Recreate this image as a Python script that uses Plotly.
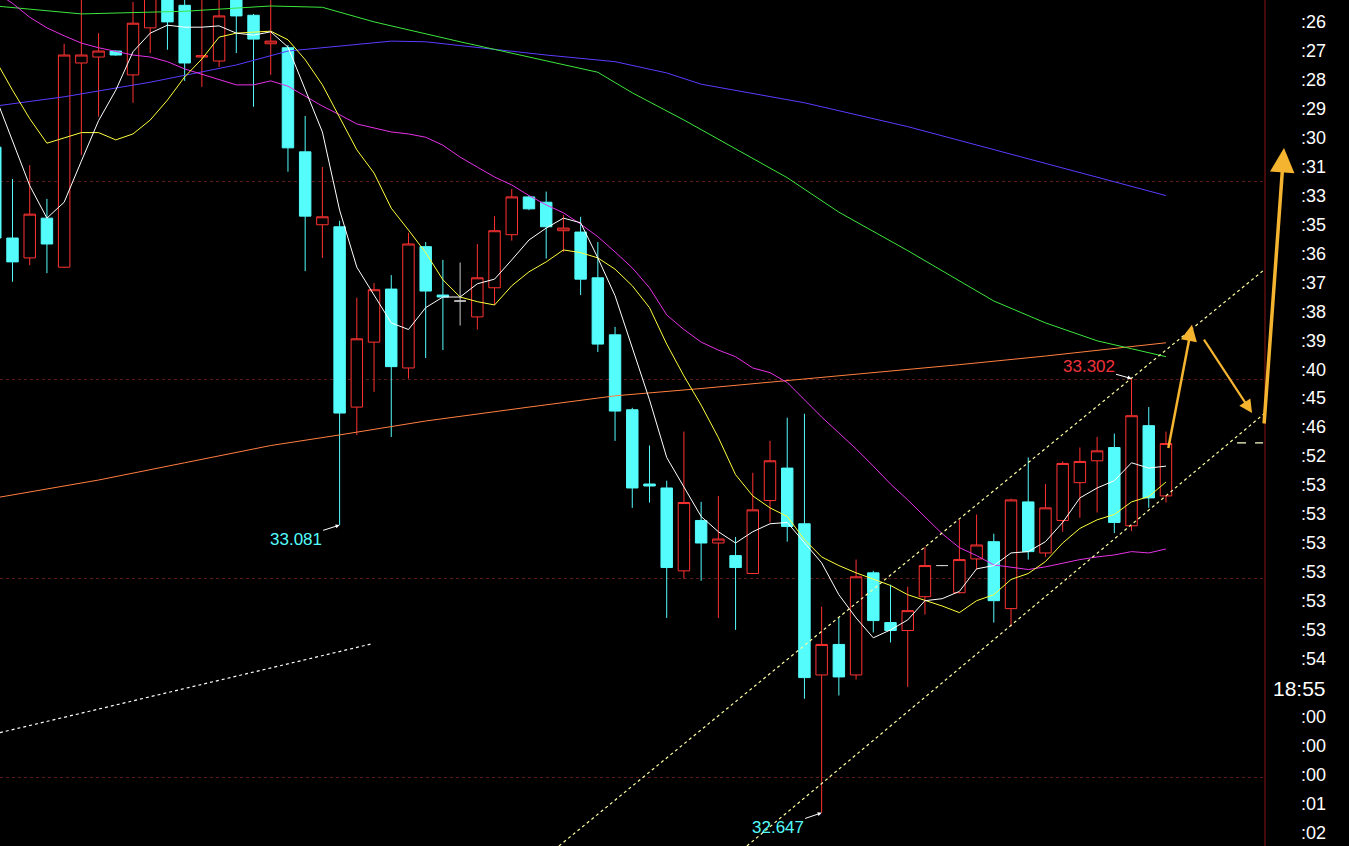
import plotly.graph_objects as go

# ---------------- data ----------------
idx = list(range(-1, 68))

opens = [33.651, 33.514, 33.484, 33.544, 33.470, 33.778, 33.787, 33.796, 33.760, 33.831,
         33.881, 33.865, 33.787, 33.781, 33.878, 33.850, 33.807, 33.801, 33.644, 33.534,
         33.531, 33.259, 33.357, 33.437, 33.318, 33.501, 33.428, 33.419, 33.395, 33.439,
         33.519, 33.576, 33.568, 33.525, 33.523, 33.454, 33.368, 33.255, 33.143, 33.137,
         33.012, 33.088, 33.054, 33.035, 33.008, 33.118, 33.167, 33.083, 32.855, 32.901,
         32.855, 33.009, 32.934, 32.922, 32.973, 33.020, 32.979, 33.030, 33.056, 32.955,
         33.116, 33.039, 33.088, 33.145, 33.178, 33.198, 33.080, 33.231, 33.125]
highs = [33.662, 33.603, 33.624, 33.573, 33.807, 33.885, 33.823, 33.797, 33.870, 33.890,
         33.890, 33.880, 33.880, 33.875, 33.885, 33.852, 33.876, 33.805, 33.698, 33.621,
         33.540, 33.424, 33.446, 33.458, 33.522, 33.508, 33.481, 33.477, 33.505, 33.547,
         33.588, 33.578, 33.584, 33.549, 33.546, 33.508, 33.380, 33.258, 33.201, 33.148,
         33.222, 33.116, 33.125, 33.063, 33.160, 33.208, 33.243, 33.249, 32.958, 32.941,
         33.029, 33.012, 32.991, 32.988, 33.048, 33.021, 33.089, 33.097, 33.068, 33.121,
         33.183, 33.143, 33.177, 33.198, 33.214, 33.219, 33.302, 33.259, 33.222]
lows = [33.504, 33.448, 33.473, 33.461, 33.469, 33.639, 33.697, 33.789, 33.718, 33.793,
        33.798, 33.751, 33.742, 33.772, 33.793, 33.712, 33.760, 33.614, 33.464, 33.484,
        33.081, 33.217, 33.282, 33.214, 33.302, 33.333, 33.345, 33.382, 33.376, 33.413,
        33.510, 33.556, 33.483, 33.493, 33.428, 33.342, 33.208, 33.107, 33.115, 32.941,
        33.000, 32.997, 32.941, 32.923, 33.007, 33.085, 33.056, 32.819, 32.647, 32.824,
        32.848, 32.919, 32.904, 32.837, 32.946, 33.019, 32.978, 33.014, 32.934, 32.928,
        33.029, 33.033, 33.071, 33.092, 33.100, 33.069, 33.072, 33.107, 33.115]
closes = [33.514, 33.478, 33.550, 33.505, 33.790, 33.790, 33.796, 33.790, 33.838, 33.876,
          33.840, 33.778, 33.789, 33.849, 33.849, 33.814, 33.811, 33.650, 33.547, 33.546,
          33.250, 33.362, 33.436, 33.320, 33.505, 33.434, 33.425, 33.419, 33.454, 33.525,
          33.576, 33.558, 33.531, 33.529, 33.452, 33.354, 33.253, 33.137, 33.140, 33.017,
          33.115, 33.054, 33.060, 33.017, 33.104, 33.178, 33.079, 32.851, 32.901, 32.852,
          33.003, 32.937, 32.922, 32.952, 33.020, 33.020, 33.029, 33.051, 32.967, 33.119,
          33.041, 33.107, 33.174, 33.177, 33.193, 33.085, 33.246, 33.122, 33.204]

ma_white = [33.728, 33.660, 33.593, 33.544, 33.568, 33.630, 33.691, 33.737, 33.795, 33.823,
            33.835, 33.832, 33.832, 33.834, 33.823, 33.820, 33.825, 33.802, 33.737, 33.674,
            33.556, 33.470, 33.428, 33.386, 33.376, 33.409, 33.425, 33.425, 33.445, 33.452,
            33.481, 33.511, 33.529, 33.544, 33.537, 33.484, 33.427, 33.348, 33.270, 33.183,
            33.139, 33.094, 33.071, 33.054, 33.071, 33.083, 33.085, 33.054, 33.024, 32.976,
            32.941, 32.911, 32.923, 32.938, 32.967, 32.970, 32.981, 33.015, 33.020, 33.039,
            33.041, 33.056, 33.085, 33.122, 33.137, 33.148, 33.175, 33.167, 33.170]
ma_yellow = [33.783, 33.737, 33.694, 33.657, 33.665, 33.673, 33.673, 33.662, 33.671, 33.692,
             33.722, 33.757, 33.784, 33.817, 33.823, 33.825, 33.826, 33.813, 33.783, 33.745,
             33.695, 33.647, 33.612, 33.559, 33.526, 33.492, 33.451, 33.425, 33.418, 33.413,
             33.442, 33.463, 33.478, 33.496, 33.492, 33.484, 33.467, 33.442, 33.409, 33.354,
             33.306, 33.262, 33.213, 33.157, 33.125, 33.107, 33.094, 33.059, 33.033, 33.020,
             33.009, 32.999, 32.990, 32.976, 32.968, 32.959, 32.949, 32.967, 32.976, 32.999,
             33.008, 33.026, 33.054, 33.076, 33.089, 33.097, 33.116, 33.124, 33.146]
ma_magenta = [33.885, 33.868, 33.847, 33.831, 33.819, 33.808, 33.801, 33.795, 33.790, 33.787,
              33.780, 33.769, 33.761, 33.752, 33.745, 33.745, 33.751, 33.743, 33.728, 33.713,
              33.700, 33.686, 33.680, 33.674, 33.671, 33.666, 33.654, 33.636, 33.621, 33.606,
              33.594, 33.578, 33.564, 33.552, 33.535, 33.516, 33.493, 33.469, 33.439, 33.398,
              33.376, 33.357, 33.345, 33.335, 33.318, 33.311, 33.296, 33.270, 33.244, 33.220,
              33.196, 33.170, 33.143, 33.119, 33.094, 33.068, 33.047, 33.035, 33.021, 33.017,
              33.014, 33.018, 33.024, 33.029, 33.033, 33.036, 33.041, 33.039, 33.045]

green_idx = [-1, 4, 10, 15, 18, 21, 26, 30, 34, 36, 39, 45, 48, 52, 57, 60, 63, 65, 67]
ma_green = [33.864, 33.852, 33.856, 33.864, 33.862, 33.840, 33.810, 33.787, 33.764, 33.733,
            33.692, 33.605, 33.553, 33.495, 33.419, 33.386, 33.359, 33.347, 33.335]
blue_idx = [-1, 3, 8, 13, 16, 19, 22, 24, 27, 31, 35, 38, 40, 46, 52, 57, 63, 67]
ma_blue = [33.713, 33.727, 33.749, 33.775, 33.796, 33.804, 33.811, 33.810, 33.801, 33.790,
           33.780, 33.763, 33.746, 33.718, 33.682, 33.647, 33.605, 33.578]
orange_idx = [-1, 5, 10, 15, 19, 24, 30, 35, 40, 45, 52, 55, 60, 64, 67]
ma_orange = [33.122, 33.149, 33.175, 33.201, 33.217, 33.238, 33.259, 33.276, 33.287, 33.299,
             33.315, 33.323, 33.336, 33.348, 33.356]

# drawn trend lines (index, price)
channel_upper = [(31.74, 32.597), (72.75, 33.467)]
channel_lower = [(42.66, 32.597), (72.75, 33.250)]
left_dotted = [(-0.73, 32.768), (20.88, 32.902)]
last_mark = [(71.13, 33.205), (72.64, 33.205)]

side_labels = [":26", ":27", ":28", ":29", ":30", ":31", ":33", ":35", ":36", ":37",
               ":38", ":39", ":40", ":45", ":46", ":52", ":53", ":53", ":53", ":53",
               ":53", ":53", ":54", "18:55", ":00", ":00", ":00", ":01", ":02"]

grid_prices = [32.7, 33.0, 33.3, 33.6]

# ---------------- figure ----------------
W, H = 1349, 846
PANEL = 1265 / W
RED = "#FF3232"
CYAN = "#54FCFC"
FONT = "Liberation Sans, Arial, sans-serif"

up = [i for i in range(len(idx)) if closes[i] > opens[i]]
dn = [i for i in range(len(idx)) if closes[i] < opens[i]]
fl = [i for i in range(len(idx)) if closes[i] == opens[i]]


def sub(lst, sel):
    return [lst[i] for i in sel]


fig = go.Figure()
fig.add_trace(go.Candlestick(
    x=sub(idx, up), open=sub(opens, up), high=sub(highs, up), low=sub(lows, up), close=sub(closes, up),
    increasing=dict(line=dict(color=RED, width=1), fillcolor="#000000"),
    decreasing=dict(line=dict(color=RED, width=1), fillcolor="#000000"),
    whiskerwidth=0, showlegend=False, hoverinfo="skip"))
fig.add_trace(go.Candlestick(
    x=sub(idx, dn), open=sub(opens, dn), high=sub(highs, dn), low=sub(lows, dn), close=sub(closes, dn),
    increasing=dict(line=dict(color=CYAN, width=1), fillcolor=CYAN),
    decreasing=dict(line=dict(color=CYAN, width=1), fillcolor=CYAN),
    whiskerwidth=0, showlegend=False, hoverinfo="skip"))
fig.add_trace(go.Candlestick(
    x=sub(idx, fl), open=sub(opens, fl), high=sub(highs, fl), low=sub(lows, fl), close=sub(closes, fl),
    increasing=dict(line=dict(color="#C8C8C8", width=1), fillcolor="#C8C8C8"),
    decreasing=dict(line=dict(color="#C8C8C8", width=1), fillcolor="#C8C8C8"),
    whiskerwidth=0, showlegend=False, hoverinfo="skip"))

line_specs = [
    (orange_idx, ma_orange, "#FF7F40"),
    (blue_idx, ma_blue, "#5A3CFF"),
    (green_idx, ma_green, "#3CE63C"),
    (idx, ma_magenta, "#E632E6"),
    (idx, ma_yellow, "#FFFF3C"),
    (idx, ma_white, "#FFFFFF"),
]
for xs, ys, col in line_specs:
    fig.add_trace(go.Scatter(x=xs, y=ys, mode="lines", line=dict(color=col, width=1),
                             showlegend=False, hoverinfo="skip"))

shapes = []
for pts, col, dash in [(channel_upper, "#FFFFA0", "dot"), (channel_lower, "#FFFFA0", "dot"),
                       (left_dotted, "#FFFFFF", "dot"), (last_mark, "#FFFFC8", "dash")]:
    (x0, y0), (x1, y1) = pts
    shapes.append(dict(type="line", xref="x", yref="y", x0=x0, y0=y0, x1=x1, y1=y1,
                       line=dict(color=col, width=1.2, dash=dash)))
shapes.append(dict(type="line", xref="paper", yref="paper", x0=PANEL, x1=PANEL, y0=0, y1=1,
                   line=dict(color="#8A1414", width=1)))

annotations = []
# price markers
for x_i, price, col, axp, ayp in [(19, lows[20], CYAN, -44, 14),
                                  (47, lows[48], CYAN, -44, 15),
                                  (65, highs[66], "#F0323C", -43, -12)]:
    annotations.append(dict(x=x_i, y=price, xref="x", yref="y", text=f"{price:.3f}",
                            showarrow=True, ax=axp, ay=ayp, arrowhead=2, arrowsize=0.8,
                            arrowwidth=1, arrowcolor="#FFFFFF", standoff=0,
                            font=dict(family=FONT, size=17, color=col)))
# orange forecast arrows
GOLD = "#F5B430"
annotations.append(dict(x=68.51, y=33.383, xref="x", yref="y", ax=67.12, ay=33.195,
                        axref="x", ayref="y", text="", showarrow=True, arrowhead=2,
                        arrowsize=1.3, arrowwidth=2.5, arrowcolor=GOLD))
annotations.append(dict(x=72.0, y=33.250, xref="x", yref="y", ax=69.15, ay=33.363,
                        axref="x", ayref="y", text="", showarrow=True, arrowhead=2,
                        arrowsize=1.2, arrowwidth=2.2, arrowcolor=GOLD))
annotations.append(dict(x=1284 / W, y=1 - 148 / H, xref="paper", yref="paper", ax=-20, ay=277,
                        text="", showarrow=True, arrowhead=2, arrowsize=1.4,
                        arrowwidth=3.5, arrowcolor=GOLD))
# right-side time column
for k, lab in enumerate(side_labels):
    ypx = 22 + 28.96 * k
    annotations.append(dict(x=1328 / W, y=1 - ypx / H, xref="paper", yref="paper",
                            xanchor="right", yanchor="middle", text=lab, showarrow=False,
                            font=dict(family=FONT, size=21 if ":" != lab[0] else 18,
                                      color="#FFFFFF")))

fig.update_layout(
    width=W, height=H,
    margin=dict(l=0, r=0, t=0, b=0),
    paper_bgcolor="#000000", plot_bgcolor="#000000",
    showlegend=False, hovermode=False, boxgap=0.05,
    shapes=shapes, annotations=annotations,
    xaxis=dict(domain=[0, PANEL], range=[-12.5 / 17.216, (1265 - 12.5) / 17.216],
               showgrid=False, zeroline=False, showticklabels=False, ticks="",
               rangeslider=dict(visible=False), fixedrange=True),
    yaxis=dict(range=[32.597, 33.873], tickvals=grid_prices, showticklabels=False,
               ticks="", showgrid=True, gridcolor="#5A1A1A", griddash="dot", gridwidth=1,
               zeroline=False, fixedrange=True),
)

fig.write_html("out.html", config={"displayModeBar": False},
               post_script="document.body.style.margin='0';document.body.style.background='#000';document.body.style.overflow='hidden';")
